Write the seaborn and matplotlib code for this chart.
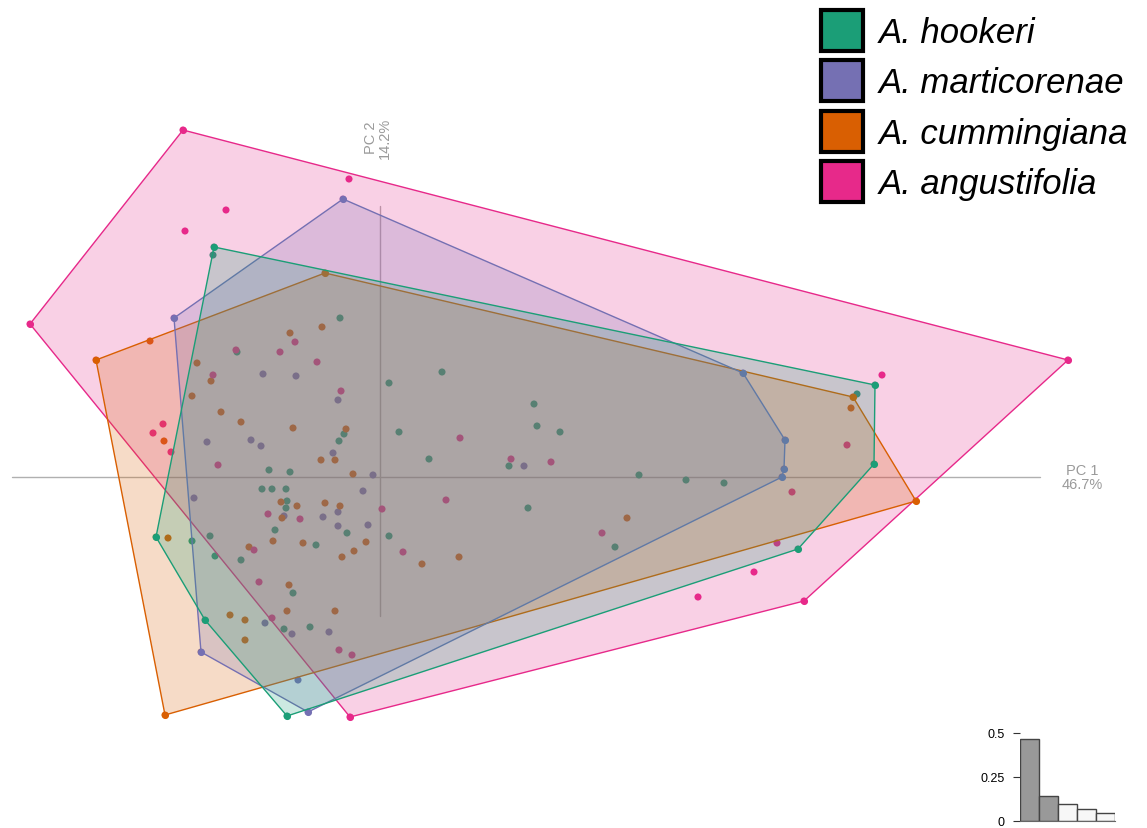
import pandas as pd
import matplotlib
matplotlib.use('Agg')
import matplotlib.pyplot as plt
from matplotlib.patches import Patch
import seaborn as sns

# PCA scores (PC1, PC2)
species = ['A. hookeri', 'A. marticorenae', 'A. cummingiana', 'A. angustifolia']
colors = ['#1B9E77', '#7570B3', '#D95F02', '#E7298A']

hookeri_pc1 = [-1.66, -1.67, -0.40, -1.43, 0.09, 0.62, -0.36, -0.41, 0.19, -1.11, -0.90, -1.18,
               -1.08, -0.94, -0.93, -0.94, -1.05, -0.33, -2.24, -1.88, -1.70, 0.09, -0.64, -1.65,
               -1.39, -0.87, -1.75, -0.96, -0.70, -0.93, 1.54, 1.57, 1.80, 0.49, 1.29, 2.59,
               3.06, 3.44, 1.48, 2.35, 4.95, 4.77, 4.94, 4.18]
hookeri_pc2 = [2.30, 2.22, 1.59, 1.25, 0.94, 1.05, 0.43, 0.36, 0.45, 0.07, 0.05, -0.12,
               -0.12, -0.12, -0.24, -0.31, -0.53, -0.56, -0.60, -0.64, -0.59, -0.59, -0.68, -0.79,
               -0.83, -1.16, -1.43, -1.52, -1.50, -2.39, 0.73, 0.51, 0.45, 0.18, 0.11, 0.02,
               -0.03, -0.06, -0.31, -0.70, 0.92, 0.83, 0.13, -0.72]

marticorenae_pc1 = [-0.37, -2.06, -1.17, -0.84, -0.42, -1.73, -1.29, -1.19, -0.47, -0.07, -1.86,
                    -0.17, -0.42, -0.96, -0.57, -0.42, -0.12, -1.15, -0.88, -0.51, -1.79, -0.82,
                    -0.72, 1.44, 3.63, 4.05, 4.04, 4.02]
marticorenae_pc2 = [2.78, 1.59, 1.03, 1.01, 0.77, 0.35, 0.37, 0.31, 0.24, 0.02, -0.21,
                    -0.14, -0.35, -0.39, -0.40, -0.49, -0.48, -1.46, -1.57, -1.55, -1.75, -2.03,
                    -2.35, 0.11, 1.04, 0.37, 0.08, 0.00]

cummingiana_pc1 = [-2.84, -2.30, -0.55, -0.90, -0.58, -1.83, -1.69, -1.88, -1.59, -1.39, -0.87,
                   -0.34, -2.16, -0.59, -0.45, -0.27, -0.99, -0.83, -0.55, -0.40, -0.98, -2.12,
                   -1.07, -0.77, -0.14, -1.31, -0.26, -0.38, -0.91, -1.50, -1.35, -0.93, -0.45,
                   -1.35, -2.15, 2.47, 0.42, 0.79, 4.73, 4.71, 5.36]
cummingiana_pc2 = [1.17, 1.36, 2.04, 1.44, 1.50, 1.14, 0.96, 0.81, 0.65, 0.55, 0.49,
                   0.48, 0.36, 0.17, 0.17, 0.03, -0.25, -0.29, -0.26, -0.29, -0.41, -0.61,
                   -0.64, -0.66, -0.65, -0.70, -0.74, -0.80, -1.08, -1.38, -1.43, -1.34, -1.34,
                   -1.63, -2.38, -0.41, -0.87, -0.80, 0.80, 0.69, -0.24]

angustifolia_pc1 = [-1.97, -0.31, -1.54, -1.95, -3.50, -1.44, -1.00, -0.85, -0.63, -1.67, -0.39,
                    -2.17, -2.27, -2.09, -1.62, 0.02, -1.12, -0.80, -1.26, -1.21, -1.08, -0.41,
                    -0.28, -0.30, 0.80, 1.31, 1.71, 0.66, 2.22, 0.23, 3.18, 3.74, 3.97, 4.12,
                    4.67, 5.02, 6.88, 4.24]
angustifolia_pc2 = [3.47, 2.98, 2.67, 2.46, 1.53, 1.27, 1.25, 1.35, 1.15, 1.02, 0.86,
                    0.53, 0.44, 0.25, 0.12, -0.32, -0.37, -0.42, -0.73, -1.05, -1.41, -1.73,
                    -1.78, -2.40, 0.39, 0.18, 0.15, -0.23, -0.56, -0.75, -1.20, -0.95, -0.66, -0.15,
                    0.32, 1.02, 1.17, -1.24]

# eigenvalues as share of inertia
eigen = [0.467, 0.142, 0.097, 0.068, 0.043]


def convex_hull(points):
    pts = sorted(set(points))

    def cross(o, a, b):
        return (a[0] - o[0]) * (b[1] - o[1]) - (a[1] - o[1]) * (b[0] - o[0])

    lower = []
    for p in pts:
        while len(lower) >= 2 and cross(lower[-2], lower[-1], p) <= 0:
            lower.pop()
        lower.append(p)
    upper = []
    for p in reversed(pts):
        while len(upper) >= 2 and cross(upper[-2], upper[-1], p) <= 0:
            upper.pop()
        upper.append(p)
    return lower[:-1] + upper[:-1]


def main():
    sns.set_style('white')
    plt.rcParams['font.family'] = ['Liberation Sans', 'DejaVu Sans']

    groups = {
        species[0]: (hookeri_pc1, hookeri_pc2),
        species[1]: (marticorenae_pc1, marticorenae_pc2),
        species[2]: (cummingiana_pc1, cummingiana_pc2),
        species[3]: (angustifolia_pc1, angustifolia_pc2),
    }
    frames = []
    for name, (x, y) in groups.items():
        frames.append(pd.DataFrame({'pc1': x, 'pc2': y, 'species': name}))
    df = pd.concat(frames, ignore_index=True)

    fig = plt.figure(figsize=(11.47, 8.29), dpi=100)
    ax = fig.add_axes([0, 0, 1, 1])
    ax.set_xlim(-3.80, 7.67)
    ax.set_ylim(-3.51, 4.78)
    ax.axis('off')

    # reference axes
    ax.plot([-3.68, 6.60], [0, 0], color='#b0b0b0', lw=1, zorder=0)
    ax.plot([0, 0], [-1.39, 2.71], color='#b0b0b0', lw=1, zorder=0)
    ax.text(7.02, 0.0, f'PC 1\n{eigen[0] * 100:.1f}%', ha='center', va='center',
            color='#9a9a9a', fontsize=10.5, linespacing=0.95)
    ax.text(-0.02, 3.40, f'PC 2\n{eigen[1] * 100:.1f}%', ha='center', va='center',
            color='#9a9a9a', fontsize=10.5, linespacing=0.95, rotation=90)

    sns.scatterplot(data=df, x='pc1', y='pc2', hue='species', hue_order=species,
                    palette=colors, s=26, linewidth=0, legend=False, ax=ax, zorder=1)

    # hulls, drawn over the points; later groups cover earlier ones
    z = 2
    for name, col in reversed(list(zip(species, colors))):
        sub = df[df['species'] == name]
        h = convex_hull(list(zip(sub['pc1'], sub['pc2'])))
        hx = [p[0] for p in h]
        hy = [p[1] for p in h]
        ax.plot(hx + [hx[0]], hy + [hy[0]], color=col, lw=1.0, zorder=z)
        ax.scatter(hx, hy, color=col, s=26, linewidth=0, zorder=z)
        ax.fill(hx, hy, facecolor=col, alpha=0.22, edgecolor='none', zorder=z + 0.5)
        z += 1

    handles = [Patch(facecolor=c, edgecolor='black', linewidth=3, label=s)
               for s, c in zip(species, colors)]
    fig.legend(handles=handles, loc='upper left', bbox_to_anchor=(821 / 1147, 1 - 11 / 829),
               frameon=False, prop={'family': 'Liberation Sans', 'style': 'italic', 'size': 25},
               handlelength=1.2, handleheight=1.45, handletextpad=0.45, labelspacing=0.26,
               borderpad=0, borderaxespad=0, labelcolor='black')

    # eigenvalue inset
    iax = fig.add_axes([1020 / 1147, 7 / 829, 95 / 1147, 88 / 829])
    bar_cols = ['#999999', '#999999', '#f7f7f7', '#f7f7f7', '#f7f7f7']
    sns.barplot(x=list(range(len(eigen))), y=eigen, hue=list(range(len(eigen))),
                palette=bar_cols, edgecolor='#444444', linewidth=1, width=1,
                legend=False, ax=iax)
    iax.set_xlim(-0.5, 4.5)
    iax.set_ylim(0, 0.5)
    iax.set_xticks([])
    iax.set_yticks([0, 0.25, 0.5])
    iax.set_yticklabels(['0', '0.25', '0.5'])
    iax.tick_params(axis='y', left=True, length=5, width=0.8, pad=6, labelsize=9,
                    labelcolor='black', color='#333333')
    for s in ['top', 'right', 'left']:
        iax.spines[s].set_visible(False)
    iax.spines['bottom'].set_color('#666666')
    iax.set_xlabel('')
    iax.set_ylabel('')
    iax.patch.set_alpha(0)

    fig.savefig('out.png', dpi=100, facecolor='white')


if __name__ == '__main__':
    main()
